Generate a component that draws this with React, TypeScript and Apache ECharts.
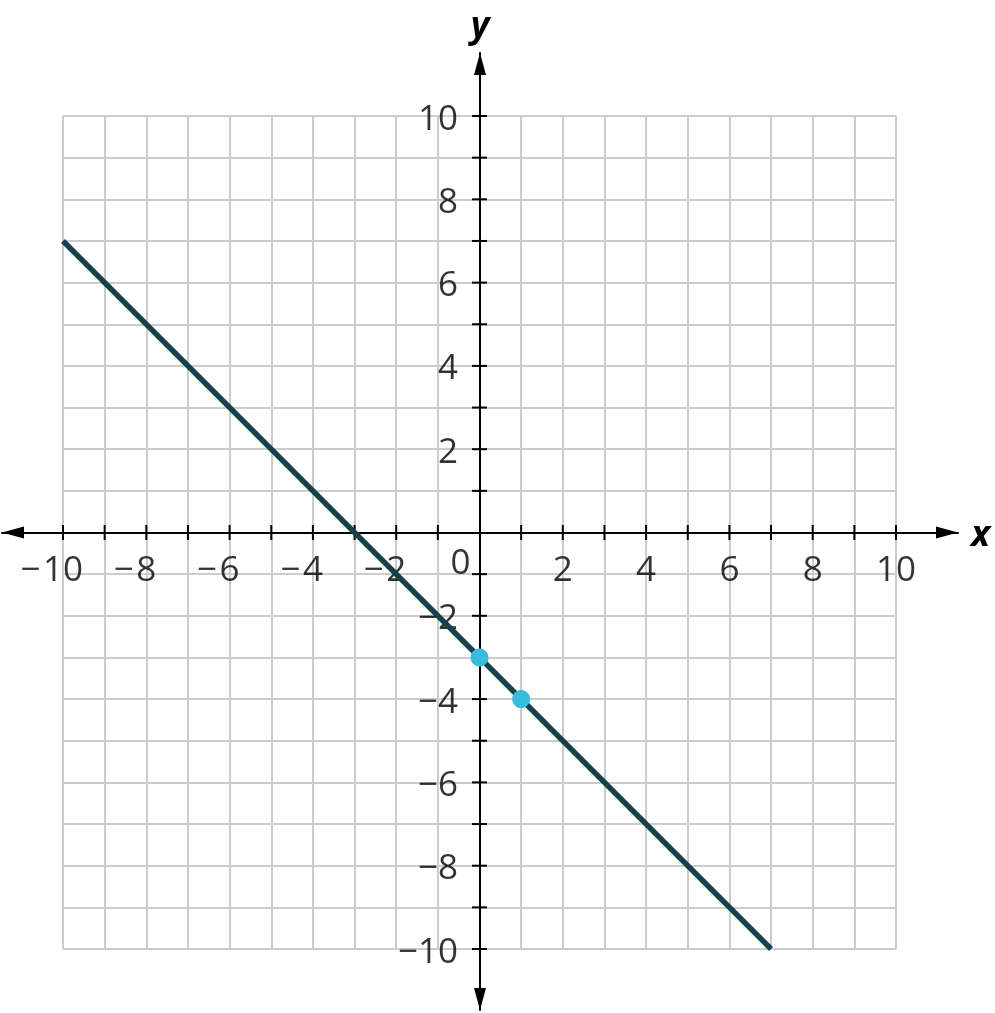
import React, { useEffect, useRef } from "react";
import * as echarts from "echarts";

const xTicks = [-10, -9, -8, -7, -6, -5, -4, -3, -2, -1, 1, 2, 3, 4, 5, 6, 7, 8, 9, 10];
const yTicks = [-10, -9, -8, -7, -6, -5, -4, -3, -2, -1, 1, 2, 3, 4, 5, 6, 7, 8, 9, 10];
const xLabels = [-10, -8, -6, -4, -2, 2, 4, 6, 8, 10];
const yLabels = [-10, -8, -6, -4, -2, 2, 4, 6, 8, 10];
const lineX = [-10, 7];
const lineY = [7, -10];
const pointX = [0, 1];
const pointY = [-3, -4];

const FONT = "'Open Sans', 'Noto Sans', sans-serif";
const TXT = "#000000";

export default function App() {
  const ref = useRef<HTMLDivElement>(null);
  useEffect(() => {
    if (!ref.current) return;
    const chart = echarts.init(ref.current, null, { renderer: "svg" });
    const unit = 833 / 20;
    const richX = {
      m: { fontSize: 35, fontFamily: FONT, color: TXT, width: 25, lineHeight: 40 },
      d: { fontSize: 35, fontFamily: FONT, color: TXT, lineHeight: 40 },
      s: { fontSize: 35, width: 25, lineHeight: 40 },
    };
    const hiddenAxis = {
      axisLine: { show: false },
      axisTick: { show: false },
      axisLabel: { show: false },
    };
    const nameStyle = {
      fontSize: 36,
      fontWeight: "bold",
      fontStyle: "italic",
      fontFamily: FONT,
      color: TXT,
    };
    const arrowLine = {
      show: true,
      onZero: true,
      onZeroAxisIndex: 1,
      symbol: ["triangle", "triangle"],
      symbolSize: [12, 22],
      symbolOffset: [11, -11],
      lineStyle: { color: "#000", width: 2 },
    };
    chart.setOption({
      animation: false,
      grid: [
        { left: 63, top: 116, width: 833, height: 833 },
        { left: 2, top: 53, width: 956, height: 957 },
      ],
      xAxis: [
        {
          type: "value",
          gridIndex: 0,
          min: -10,
          max: 10,
          interval: 1,
          ...hiddenAxis,
          splitLine: { show: true, lineStyle: { color: "#cccccc", width: 2 } },
        },
        {
          type: "value",
          gridIndex: 1,
          min: -478 / unit,
          max: 478 / unit,
          z: 1,
          axisLine: arrowLine,
          axisTick: { show: false },
          axisLabel: { show: false },
          splitLine: { show: false },
          name: "x",
          nameLocation: "end",
          nameGap: 13,
          nameTextStyle: nameStyle,
        },
      ],
      yAxis: [
        {
          type: "value",
          gridIndex: 0,
          min: -10,
          max: 10,
          interval: 1,
          ...hiddenAxis,
          splitLine: { show: true, lineStyle: { color: "#cccccc", width: 2 } },
        },
        {
          type: "value",
          gridIndex: 1,
          min: -(1010 - 532.5) / unit,
          max: (532.5 - 53) / unit,
          z: 1,
          axisLine: arrowLine,
          axisTick: { show: false },
          axisLabel: { show: false },
          splitLine: { show: false },
          name: "y",
          nameLocation: "end",
          nameGap: 12,
          nameTextStyle: { ...nameStyle, align: "center", verticalAlign: "bottom" },
        },
      ],
      series: [
        {
          type: "scatter",
          xAxisIndex: 0,
          yAxisIndex: 0,
          z: 3,
          silent: true,
          symbol: "rect",
          symbolSize: [2, 15],
          itemStyle: { color: "#000", opacity: 1 },
          data: xTicks.map((v) => [v, 0]),
        },
        {
          type: "scatter",
          xAxisIndex: 0,
          yAxisIndex: 0,
          z: 3,
          silent: true,
          symbol: "rect",
          symbolSize: [15, 2],
          itemStyle: { color: "#000", opacity: 1 },
          data: yTicks.map((v) => [0, v]),
        },
        {
          type: "scatter",
          xAxisIndex: 0,
          yAxisIndex: 0,
          z: 3,
          silent: true,
          symbolSize: 1,
          itemStyle: { color: "rgba(0,0,0,0)" },
          label: {
            show: true,
            position: "bottom",
            distance: 14,
            formatter: (p: any) => {
              const v = p.value[0];
              return v < 0 ? `{m|−}{d|${Math.abs(v)}}{s|}` : `{d|${v}}`;
            },
            rich: richX,
          },
          data: xLabels.map((v) => [v, 0]),
        },
        {
          type: "scatter",
          xAxisIndex: 0,
          yAxisIndex: 0,
          z: 3,
          silent: true,
          symbolSize: 1,
          itemStyle: { color: "rgba(0,0,0,0)" },
          label: {
            show: true,
            position: "left",
            distance: 21,
            formatter: (p: any) => {
              const v = p.value[1];
              return v < 0 ? `{m|−}{d|${Math.abs(v)}}` : `{d|${v}}`;
            },
            rich: richX,
          },
          data: yLabels.map((v) => [0, v]),
        },
        {
          type: "scatter",
          xAxisIndex: 0,
          yAxisIndex: 0,
          z: 3,
          silent: true,
          symbolSize: 1,
          itemStyle: { color: "rgba(0,0,0,0)" },
          label: {
            show: true,
            position: "bottom",
            distance: 14,
            offset: [-19, -7],
            formatter: "{d|0}",
            rich: richX,
          },
          data: [[0, 0]],
        },
        {
          type: "line",
          xAxisIndex: 0,
          yAxisIndex: 0,
          z: 4,
          silent: true,
          symbol: "none",
          lineStyle: { color: "#173f4f", width: 5.5 },
          data: lineX.map((x, i) => [x, lineY[i]]),
        },
        {
          type: "scatter",
          xAxisIndex: 0,
          yAxisIndex: 0,
          z: 5,
          silent: true,
          symbolSize: 18,
          itemStyle: { color: "#38bcdc", opacity: 1 },
          data: pointX.map((x, i) => [x, pointY[i]]),
        },
      ],
    });
    return () => chart.dispose();
  }, []);
  return (
    <div
      ref={ref}
      style={{ position: "fixed", left: 0, top: 0, width: 995, height: 1013 }}
    />
  );
}
